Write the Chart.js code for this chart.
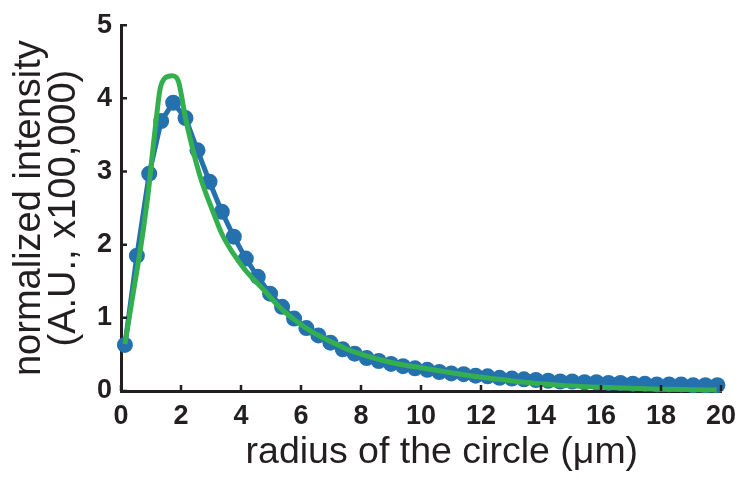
<!DOCTYPE html>
<html>
<head>
<meta charset="utf-8">
<script src="https://cdn.jsdelivr.net/npm/chart.js@4"></script>
<style>
  html, body { margin: 0; padding: 0; background: #fff; }
  #wrap { width: 748px; height: 479px; }
</style>
</head>
<body>
<div id="wrap"><canvas id="myChart" width="748" height="479"></canvas></div>
<script>
// measured profile (dots) and fitted curve, intensity in units of 100,000
const radius = [0.13, 0.53, 0.94, 1.34, 1.74, 2.15, 2.55, 2.95, 3.36, 3.76,
  4.16, 4.56, 4.97, 5.37, 5.77, 6.18, 6.58, 6.98, 7.39, 7.79,
  8.19, 8.59, 9.00, 9.40, 9.80, 10.21, 10.61, 11.01, 11.42, 11.82,
  12.22, 12.62, 13.03, 13.43, 13.83, 14.24, 14.64, 15.04, 15.45, 15.85,
  16.25, 16.65, 17.06, 17.46, 17.86, 18.27, 18.67, 19.07, 19.48, 19.88];
const measured = [0.63, 1.85, 2.97, 3.69, 3.94, 3.73, 3.29, 2.86, 2.45, 2.11,
  1.81, 1.56, 1.33, 1.15, 0.99, 0.86, 0.76, 0.66, 0.57, 0.51,
  0.45, 0.41, 0.37, 0.34, 0.31, 0.29, 0.26, 0.24, 0.23, 0.21,
  0.20, 0.18, 0.17, 0.16, 0.15, 0.14, 0.13, 0.13, 0.12, 0.12,
  0.11, 0.11, 0.10, 0.10, 0.09, 0.09, 0.09, 0.08, 0.08, 0.08];

const fitRadius = [0.13, 0.4, 0.7, 0.91, 1.08, 1.19, 1.3, 1.47, 1.71, 1.91,
  2.02, 2.13, 2.3, 2.52, 2.71, 3.02, 3.36, 3.74, 4.13, 4.74,
  5.3, 5.86, 6.4, 6.97, 7.6, 8.19, 9.0, 9.97, 11.0, 11.97,
  13.0, 13.97, 15.0, 16.0, 16.97, 18.0, 19.0, 19.85];
const fitIntensity = [0.64, 1.32, 2.08, 2.72, 3.37, 3.77, 4.12, 4.28, 4.31, 4.24,
  4.03, 3.77, 3.46, 3.10, 2.84, 2.50, 2.15, 1.88, 1.66, 1.39,
  1.14, 0.95, 0.80, 0.68, 0.56, 0.48, 0.39, 0.32, 0.25, 0.19,
  0.14, 0.10, 0.07, 0.05, 0.036, 0.025, 0.018, 0.013];

const xTicks = [0, 2, 4, 6, 8, 10, 12, 14, 16, 18, 20];
const yTicks = [0, 1, 2, 3, 4, 5];

const ink = "#231f20";
const tickFont = { family: "'Liberation Sans', Arial, sans-serif", size: 27, weight: "bold" };

// short tick marks pointing into the plot
const innerTicks = {
  id: "innerTicks",
  afterDraw(chart) {
    const { ctx, chartArea, scales } = chart;
    ctx.save();
    ctx.strokeStyle = ink;
    ctx.lineWidth = 2.5;
    ctx.beginPath();
    scales.x.ticks.forEach((t) => {
      const px = scales.x.getPixelForValue(t.value);
      ctx.moveTo(px, chartArea.bottom);
      ctx.lineTo(px, chartArea.bottom - 6);
    });
    scales.y.ticks.forEach((t) => {
      const py = scales.y.getPixelForValue(t.value);
      ctx.moveTo(chartArea.left - 1, py);
      ctx.lineTo(chartArea.left + 6, py);
    });
    ctx.stroke();
    ctx.restore();
  },
};

const ctx = document.getElementById("myChart").getContext("2d");
const myChart = new Chart(ctx, {
  type: "scatter",
  data: {
    datasets: [
      {
        label: "fit",
        data: fitRadius.map((r, i) => ({ x: r, y: fitIntensity[i] })),
        showLine: true,
        borderColor: "#34af50",
        borderWidth: 5,
        pointRadius: 0,
        cubicInterpolationMode: "monotone",
        clip: false,
        order: 0,
      },
      {
        label: "measured",
        data: radius.map((r, i) => ({ x: r, y: measured[i] })),
        showLine: true,
        borderColor: "#2471ad",
        backgroundColor: "#2471ad",
        borderWidth: 5,
        pointRadius: 8,
        pointBorderWidth: 0,
        clip: false,
        order: 1,
      },
    ],
  },
  options: {
    responsive: false,
    animation: false,
    layout: { padding: { top: 16, right: 27, left: 0, bottom: 0 } },
    plugins: { legend: { display: false }, tooltip: { enabled: false } },
    scales: {
      x: {
        type: "linear",
        min: 0,
        max: 20,
        afterBuildTicks: (s) => { s.ticks = xTicks.map((v) => ({ value: v })); },
        afterFit: (s) => { s.height = 88; },
        grid: { display: false, drawTicks: false },
        border: { display: true, color: ink, width: 3 },
        ticks: { color: ink, padding: 9, maxRotation: 0, font: tickFont },
        title: {
          display: true,
          // leading spaces push the centred title a little to the right
          text: "\u00a0\u00a0\u00a0\u00a0radius of the circle (μm)",
          color: ink,
          padding: { top: 0, bottom: 4 },
          font: { family: "Liberation Sans", size: 37.5, lineHeight: 1.2 },
        },
      },
      y: {
        type: "linear",
        min: 0,
        max: 5,
        afterBuildTicks: (s) => { s.ticks = yTicks.map((v) => ({ value: v })); },
        afterFit: (s) => { s.width = 121; },
        grid: { display: false, drawTicks: false },
        border: { display: true, color: ink, width: 3 },
        ticks: { color: ink, padding: 9, font: tickFont },
        title: {
          display: true,
          text: ["normalized intensity", "(A.U., x100,000)"],
          color: ink,
          padding: { top: 12, bottom: 0 },
          font: { family: "Liberation Sans", size: 38, lineHeight: 0.93 },
        },
      },
    },
  },
  plugins: [innerTicks],
});
</script>
</body>
</html>
